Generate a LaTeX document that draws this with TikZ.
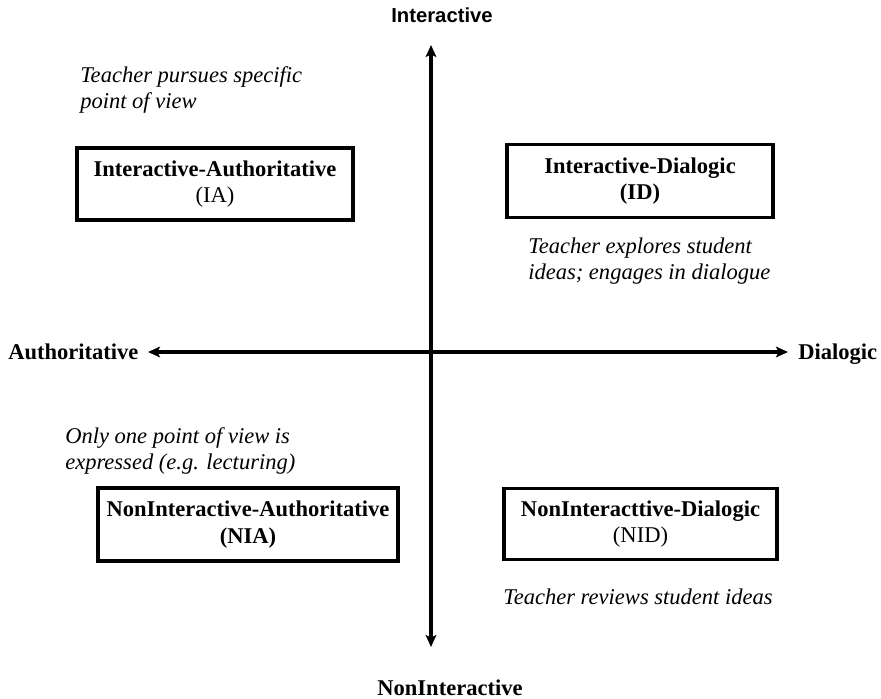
\documentclass[tikz,border=0pt]{standalone}
\usepackage{fontspec}
\setmainfont{Liberation Serif}
\newfontfamily\arialfont{Liberation Sans}
\usetikzlibrary{arrows.meta}
\begin{document}
\begin{tikzpicture}[x=0.75pt,y=-0.75pt,
  axis/.style={line width=2.3pt,{Stealth[length=9pt,width=8pt,inset=2pt]}-{Stealth[length=9pt,width=8pt,inset=2pt]}},
  quad/.style={draw,line width=2.3pt,align=center,font=\fontsize{16.9}{20}\selectfont,inner sep=0pt},
  lbl/.style={font=\fontsize{16.9}{20}\selectfont\bfseries,inner sep=0pt},
  note/.style={font=\fontsize{16.9}{19.5}\selectfont\itshape,align=left,inner sep=0pt}]
\useasboundingbox (0,0) rectangle (881,699);
% axes
\coordinate (top) at (431,45);
\coordinate (bot) at (431,647);
\coordinate (lft) at (148,352);
\coordinate (rgt) at (788,352);
\draw[axis] (bot) -- (top);
\draw[axis] (lft) -- (rgt);
% axis labels
\node[font=\arialfont\fontsize{15.2}{18}\selectfont\bfseries,inner sep=0pt] (tIA) at (442,15) {Interactive};
\node[lbl] (tNI) at (450,688) {NonInteractive};
\node[lbl,anchor=base west] (tA) at (8,359.5) {Authoritative};
\node[lbl,anchor=base west] (tD) at (798,359.5) {Dialogic};
% boxes
\node[quad,minimum width=276*0.75pt,minimum height=72*0.75pt] (IA) at (215,184) {\textbf{Interactive-Authoritative}\\(IA)};
\node[quad,minimum width=266*0.75pt,minimum height=73*0.75pt] (ID) at (640,181) {\textbf{Interactive-Dialogic}\\\textbf{(ID)}};
\node[quad,minimum width=300*0.75pt,minimum height=73*0.75pt] (NIA) at (248,524.5) {\textbf{NonInteractive-Authoritative}\\\textbf{(NIA)}};
\node[quad,minimum width=273*0.75pt,minimum height=71*0.75pt] (NID) at (640.5,524) {\textbf{NonInteracttive-Dialogic}\\(NID)};
% notes
\node[note,anchor=north west] (nIA) at (80,66) {Teacher pursues specific\\point of view};
\node[note,anchor=north west] (nID) at (528,238) {Teacher explores student\\ideas; engages in dialogue};
\node[note,anchor=north west] (nNIA) at (65,427) {Only one point of view is\\expressed (e.g. lecturing)};
\node[note] (nNID) at (638,597) {Teacher reviews student ideas};
\end{tikzpicture}
\end{document}
